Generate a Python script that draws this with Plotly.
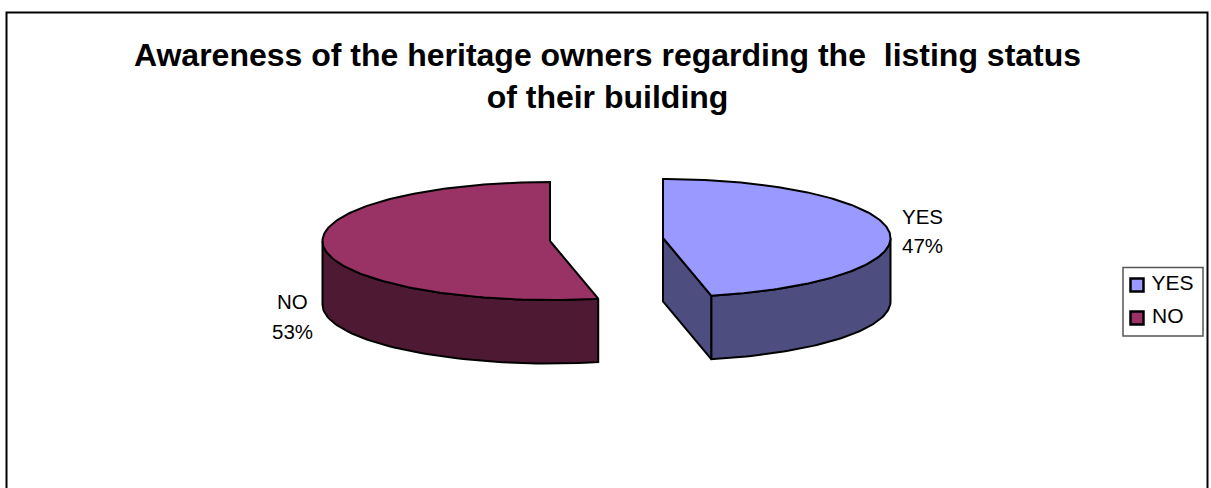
import numpy as np
import plotly.graph_objects as go

categories = ["YES", "NO"]
values = [46.6, 53.4]
top_colors = ["#9999FF", "#993366"]
side_colors = ["#4D4D80", "#4D1933"]
title_lines = ["Awareness of the heritage owners regarding the  listing status", "of their building"]

W, H = 1211, 488
RX, RY, DEPTH = 227.5, 59, 63.5
centers = [(663, 238), (550, 241)]
label_pos = [(922, 216, 245), (292, 301, 331)]
legend_rows = [285, 318]
EDGE = dict(color="#000000", width=2)


def ell(c, deg):
    t = np.radians(np.asarray(deg, dtype=float))
    return c[0] + RX * np.sin(t), c[1] - RY * np.cos(t)


def poly(fig, xs, ys, color):
    xs = list(xs) + [xs[0]]
    ys = list(ys) + [ys[0]]
    fig.add_trace(go.Scatter(x=xs, y=ys, mode="lines", fill="toself", fillcolor=color,
                             line=EDGE, showlegend=False, hoverinfo="skip"))


fig = go.Figure()
total = sum(values)
split = values[0] / total * 360

# slice angular spans, clockwise from the top
spans = [(0.0, split), (split, 360.0)]
rims = [(90.0, split), (split, 270.0)]

for i in (1, 0):
    c = centers[i]
    a0, a1 = spans[i]
    # rim wall
    arc = np.linspace(rims[i][0], rims[i][1], 60)
    ax, ay = ell(c, arc)
    poly(fig, np.r_[ax, ax[::-1]], np.r_[ay, ay[::-1] + DEPTH], side_colors[i])
    # flat cut wall of the YES slice that faces the viewer
    if i == 0:
        ex, ey = ell(c, [split])
        poly(fig, [c[0], ex[0], ex[0], c[0]], [c[1], ey[0], ey[0] + DEPTH, c[1] + DEPTH], side_colors[i])
    # top face
    arc = np.linspace(a0, a1, 160)
    ax, ay = ell(c, arc)
    poly(fig, np.r_[c[0], ax], np.r_[c[1], ay], top_colors[i])

# legend key
for name, col, ly in zip(categories, top_colors, legend_rows):
    fig.add_trace(go.Scatter(x=[1137], y=[ly], mode="markers+text", name=name, text=[" " + name],
                             textposition="middle right", showlegend=False, hoverinfo="skip",
                             textfont=dict(family="Liberation Sans", size=21, color="#000000"),
                             marker=dict(symbol="square", size=13, color=col,
                                         line=dict(color="#000000", width=2.5))))

# slice labels
anns = []
for name, v, (lx, ly1, ly2) in zip(categories, values, label_pos):
    for txt, ly in ((name, ly1), (f"{round(v / total * 100)}%", ly2)):
        anns.append(dict(x=lx, y=ly, text=txt, showarrow=False, xanchor="center", yanchor="middle",
                         font=dict(family="Liberation Sans", size=20.5, color="#000000")))

fig.update_layout(
    width=W, height=H, autosize=False, showlegend=False,
    margin=dict(l=0, r=0, t=0, b=0, pad=0),
    paper_bgcolor="#FFFFFF", plot_bgcolor="rgba(0,0,0,0)",
    title=dict(text="<br>".join(title_lines), x=607.5 / W, xanchor="center", y=1 - 66 / H, yanchor="middle",
               font=dict(family="Liberation Sans", size=32, color="#000000", weight="bold")),
    xaxis=dict(range=[0, W], visible=False, fixedrange=True, domain=[0, 1]),
    yaxis=dict(range=[H, 0], visible=False, fixedrange=True, domain=[0, 1]),
    annotations=anns,
    shapes=[
        dict(type="rect", xref="paper", yref="paper", x0=6.5 / W, x1=1207.5 / W, y0=-0.05, y1=1 - 12.5 / H,
             line=dict(color="#000000", width=2), fillcolor="rgba(0,0,0,0)", layer="below"),
        dict(type="rect", xref="paper", yref="paper", x0=1123 / W, x1=1203 / W, y0=1 - 336 / H, y1=1 - 267.5 / H,
             line=dict(color="#555555", width=1.5), fillcolor="#FFFFFF", layer="below"),
    ],
)
fig.write_html("out.html", config={"displayModeBar": False},
               post_script="document.body.style.margin='0';document.body.style.overflow='hidden';")
